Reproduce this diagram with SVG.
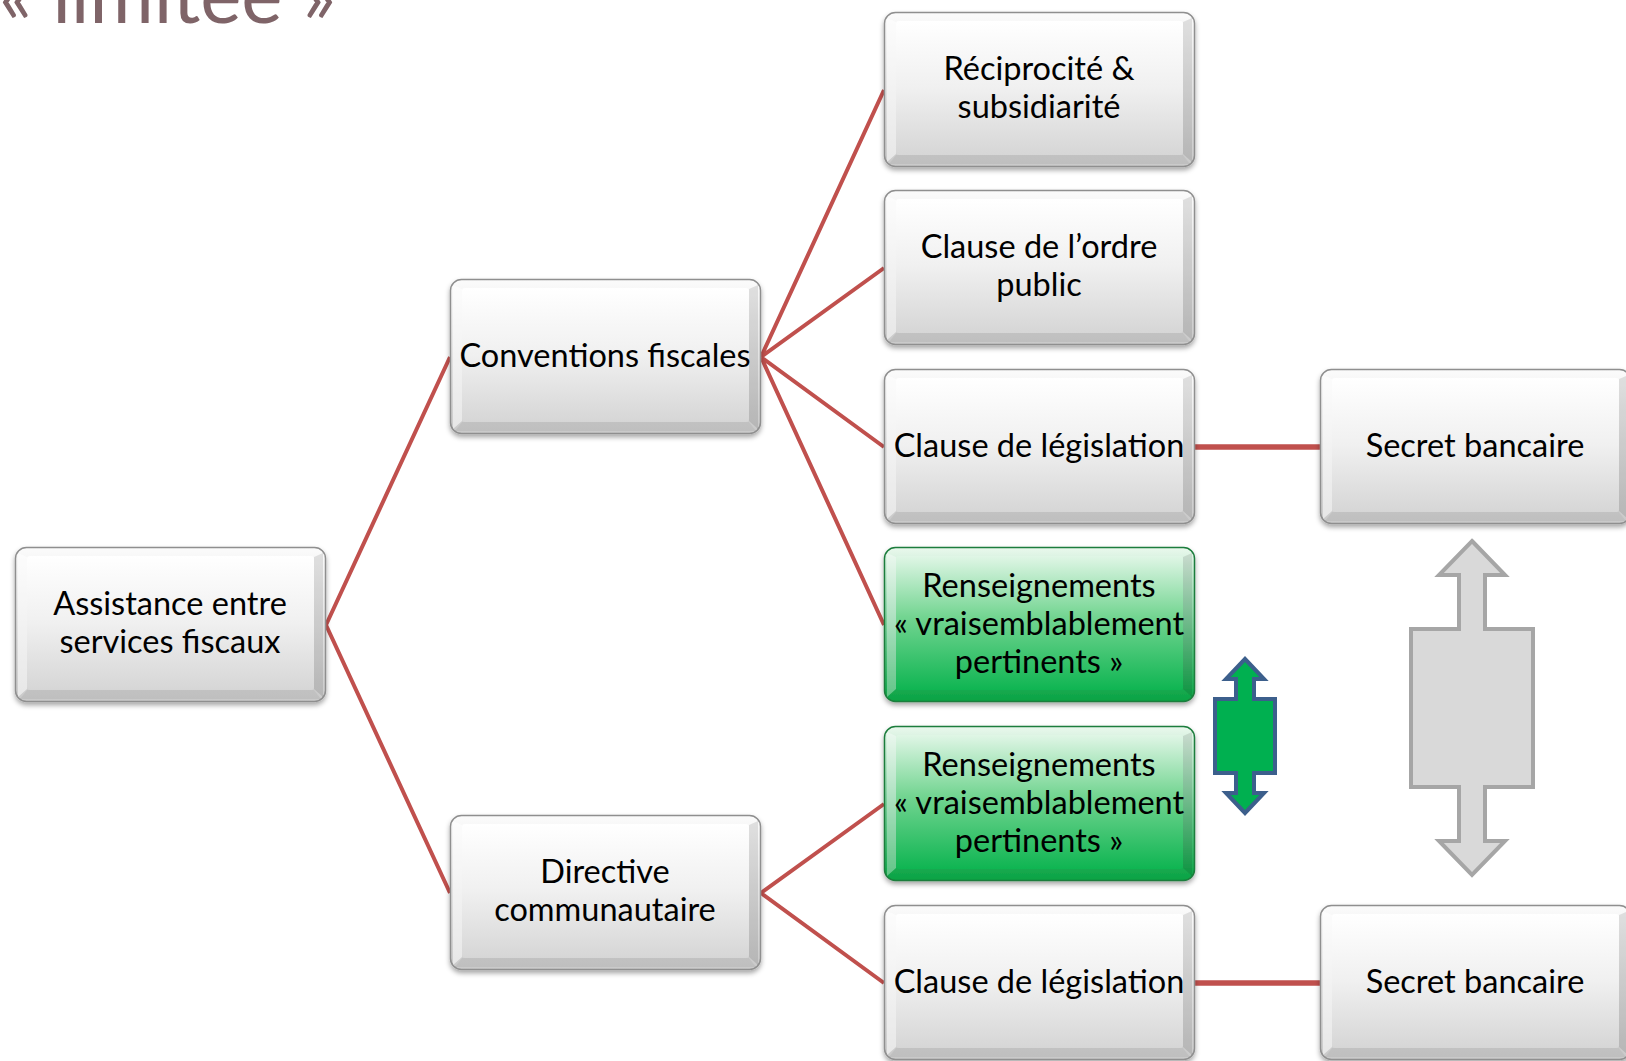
<svg xmlns="http://www.w3.org/2000/svg" xmlns:xlink="http://www.w3.org/1999/xlink" width="1626" height="1061" viewBox="0 0 1626 1061">
<style>
.lbl{font-family:Lato,"Open Sans","Liberation Sans",sans-serif;font-size:32.5px;fill:#000;text-anchor:middle}
.tree{stroke:#C0504D;stroke-width:4;fill:none}
.link{stroke:#C0504D;stroke-width:5.5;fill:none}
</style>
<defs>
<filter id="sh" x="-5%" y="-5%" width="110%" height="115%">
<feDropShadow dx="0" dy="3" stdDeviation="2.5" flood-color="#000" flood-opacity="0.35"/>
</filter>
<linearGradient id="gOut" x1="0" y1="0" x2="0" y2="1">
<stop offset="0" stop-color="#fbfbfb"/><stop offset="1" stop-color="#c9c9c9"/>
</linearGradient>
<linearGradient id="gFace" x1="0" y1="0" x2="0" y2="1">
<stop offset="0" stop-color="#ffffff"/><stop offset="0.5" stop-color="#f0f0f0"/><stop offset="1" stop-color="#d6d6d6"/>
</linearGradient>
<linearGradient id="gOutG" x1="0" y1="0" x2="0" y2="1">
<stop offset="0" stop-color="#eaf8ed"/><stop offset="1" stop-color="#07a343"/>
</linearGradient>
<linearGradient id="gFaceG" x1="0" y1="0" x2="0" y2="1">
<stop offset="0" stop-color="#e0f6e6"/><stop offset="0.45" stop-color="#74d592"/><stop offset="1" stop-color="#0fb552"/>
</linearGradient>
<g id="boxGray">
<rect x="0.5" y="0.5" width="310" height="154" rx="11" fill="url(#gOut)" stroke="#8f8f8f" stroke-width="1.5" filter="url(#sh)"/>
<rect x="12" y="9" width="287" height="134" rx="3" fill="url(#gFace)"/>
<polygon points="3,6 12,10 12,142 3,150" fill="#fff" opacity="0.55"/>
<polygon points="299,10 308,6 308,150 299,142" fill="#000" opacity="0.10"/>
<polygon points="12,143 299,143 306,152 5,152" fill="#000" opacity="0.05"/>
</g>
<g id="boxGreen">
<rect x="0.5" y="0.5" width="310" height="154" rx="11" fill="url(#gOutG)" stroke="#1d7d3d" stroke-width="1.5" filter="url(#sh)"/>
<rect x="12" y="9" width="287" height="134" rx="3" fill="url(#gFaceG)"/>
<polygon points="3,6 12,10 12,142 3,150" fill="#fff" opacity="0.35"/>
<polygon points="299,10 308,6 308,150 299,142" fill="#000" opacity="0.10"/>
</g>
</defs>
<rect width="1626" height="1061" fill="#fff"/>

<text id="title" x="336" y="23" text-anchor="end" font-family="Lato,'Open Sans','Liberation Sans',sans-serif" font-size="78" fill="#7F6468">« limitée »</text>

<g id="connectors">
<path class="tree" d="M326,625 L450,357 M326,625 L450,893"/>
<path class="tree" d="M761,357 L884,90 M761,357 L884,268 M761,357 L884,447 M761,357 L884,625"/>
<path class="tree" d="M761,893 L884,804 M761,893 L884,983"/>
<path class="link" d="M1195,447 L1320,447 M1195,983 L1320,983"/>
</g>

<g id="n-assistance" transform="translate(15,547)"><use xlink:href="#boxGray"/><text class="lbl" x="155" y="68">Assistance entre</text><text class="lbl" x="155" y="106">services fiscaux</text></g>
<g id="n-conventions" transform="translate(450,279)"><use xlink:href="#boxGray"/><text class="lbl" x="155" y="88">Conventions fiscales</text></g>
<g id="n-directive" transform="translate(450,815)"><use xlink:href="#boxGray"/><text class="lbl" x="155" y="68">Directive</text><text class="lbl" x="155" y="106">communautaire</text></g>

<g id="n-reciprocite" transform="translate(884,12)"><use xlink:href="#boxGray"/><text class="lbl" x="155" y="68">Réciprocité &amp;</text><text class="lbl" x="155" y="106">subsidiarité</text></g>
<g id="n-ordre-public" transform="translate(884,190)"><use xlink:href="#boxGray"/><text class="lbl" x="155" y="68">Clause de l’ordre</text><text class="lbl" x="155" y="106">public</text></g>
<g id="n-legislation-1" transform="translate(884,369)"><use xlink:href="#boxGray"/><text class="lbl" x="155" y="88">Clause de législation</text></g>
<g id="n-renseignements-1" transform="translate(884,547)"><use xlink:href="#boxGreen"/><text class="lbl" x="155" y="50">Renseignements</text><text class="lbl" x="155" y="88">« vraisemblablement</text><text class="lbl" x="155" y="126">pertinents »</text></g>
<g id="n-renseignements-2" transform="translate(884,726)"><use xlink:href="#boxGreen"/><text class="lbl" x="155" y="50">Renseignements</text><text class="lbl" x="155" y="88">« vraisemblablement</text><text class="lbl" x="155" y="126">pertinents »</text></g>
<g id="n-legislation-2" transform="translate(884,905)"><use xlink:href="#boxGray"/><text class="lbl" x="155" y="88">Clause de législation</text></g>

<g id="n-secret-1" transform="translate(1320,369)"><use xlink:href="#boxGray"/><text class="lbl" x="155" y="88">Secret bancaire</text></g>
<g id="n-secret-2" transform="translate(1320,905)"><use xlink:href="#boxGray"/><text class="lbl" x="155" y="88">Secret bancaire</text></g>

<g id="arrow-green">
<path d="M1245,659 L1264,679 L1254,679 L1254,699 L1275,699 L1275,773 L1254,773 L1254,793 L1264,793 L1245,813 L1226,793 L1236,793 L1236,773 L1215,773 L1215,699 L1236,699 L1236,679 L1226,679 Z" fill="#00B050" stroke="#3C5F8C" stroke-width="4" stroke-linejoin="miter"/>
</g>
<g id="arrow-gray">
<path d="M1472,541 L1505,575 L1485,575 L1485,629 L1533,629 L1533,787 L1485,787 L1485,841 L1505,841 L1472,875 L1439,841 L1459,841 L1459,787 L1411,787 L1411,629 L1459,629 L1459,575 L1439,575 Z" fill="#D9D9D9" stroke="#A6A6A6" stroke-width="4"/>
</g>
</svg>
